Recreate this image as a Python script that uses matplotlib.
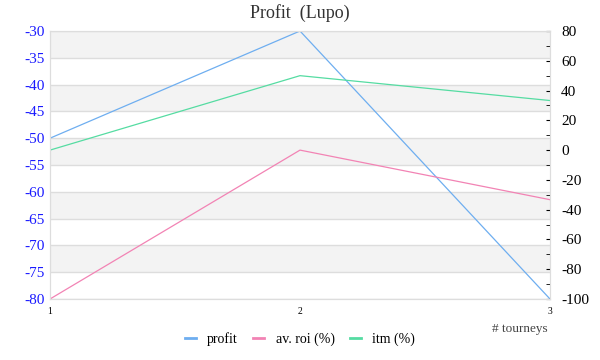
import matplotlib.pyplot as plt
import numpy as np

# data to plot
tourneys = [1, 2, 3]
profit = [-50, -30, -80]
av_roi = [-100, 0, -33.3]
itm = [0, 50, 33.3]

plt.rcParams['font.family'] = ['Liberation Serif', 'DejaVu Serif']
plt.rcParams['axes.unicode_minus'] = False

fig = plt.figure(figsize=(6, 3.6), dpi=100)
ax = fig.add_axes([50/600, 1-299/360, 500/600, 268/360])
ax2 = ax.twinx()

# alternating bands on the left axis
for y0 in np.arange(-80, -30, 5):
    if int((y0 + 80) / 5) % 2 == 1:
        ax.axhspan(y0, y0 + 5, color='#f3f3f3', zorder=0, lw=0)
ax.set_yticks(np.arange(-80, -29, 5))
ax.grid(axis='y', color='#dddddd', lw=1)
ax.set_axisbelow(True)
ax.set_ylim(-80, -30)
ax.set_xlim(1, 3)
ax.set_xticks(tourneys)
ax.tick_params(axis='x', length=0, labelsize=7, pad=6)
ax.tick_params(axis='y', length=0, labelcolor='#1a1aff', labelsize=11)
for s in ax.spines.values():
    s.set_color('#dddddd')
for s in ax2.spines.values():
    s.set_color('#dddddd')

l1, = ax.plot(tourneys, profit, color='#6eaef0', lw=0.9, label='profit')
l2, = ax2.plot(tourneys, av_roi, color='#f283b4', lw=0.9, label='av. roi (%)')
l3, = ax2.plot(tourneys, itm, color='#55dca2', lw=0.9, label='itm (%)')

ax2.set_ylim(-100, 80)
ax2.set_yticks(np.arange(-100, 81, 20))
ax2.set_yticks(np.arange(-90, 80, 20), minor=True)
ax2.tick_params(axis='y', which='both', direction='in', length=3, color='black',
                labelsize=11, pad=8)

fig.text(0.5, 1-13/360, 'Profit  (Lupo)', ha='center', va='center', fontsize=13, color='#333333')
fig.text(548/600, 1-329/360, '# tourneys', ha='right', va='center', fontsize=9.5, color='#444444')
fig.legend(handles=[l1, l2, l3], loc='center', bbox_to_anchor=(0.5, 1-339/360), ncol=3,
           frameon=False, fontsize=10, handlelength=0.8, handletextpad=0.8, columnspacing=1.1)
for line in fig.legends[0].get_lines():
    line.set_linewidth(2)

fig.savefig('out.png')
